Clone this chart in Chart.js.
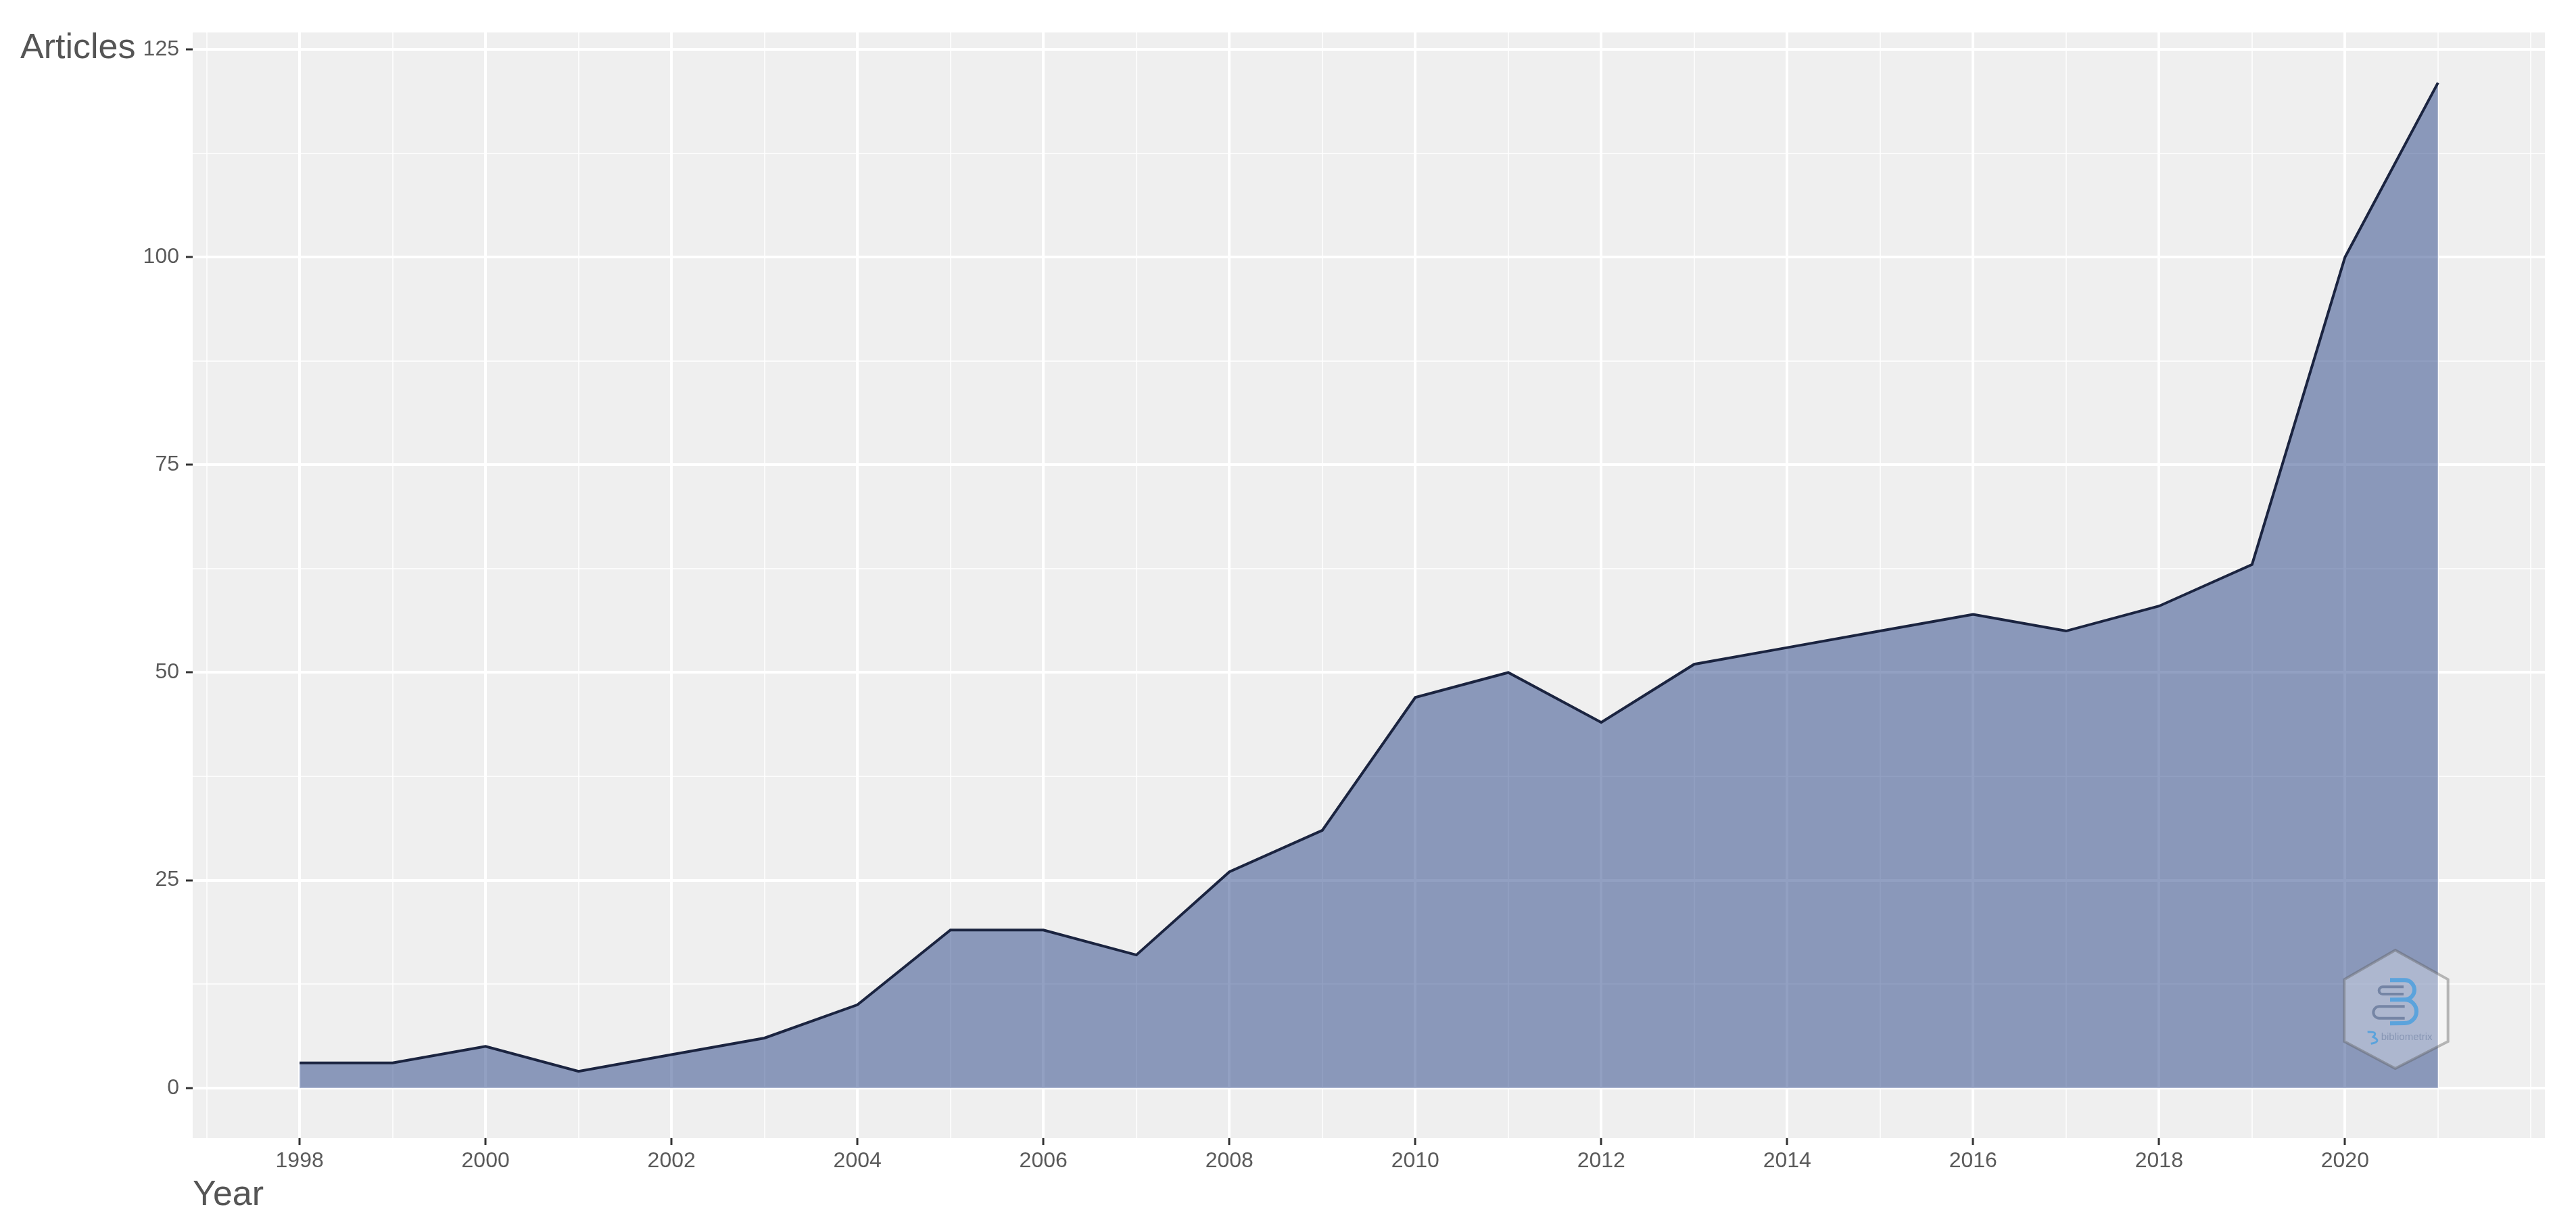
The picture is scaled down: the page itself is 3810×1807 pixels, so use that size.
<!DOCTYPE html>
<html>
<head>
<meta charset="utf-8">
<title>Annual production</title>
<script src="https://cdn.jsdelivr.net/npm/chart.js@4/dist/chart.umd.min.js"></script>
<style>
  html, body { margin: 0; padding: 0; background: #fff; }
  canvas { display: block; }
</style>
</head>
<body>
<canvas id="articlesChart" width="3810" height="1807"></canvas>
<script>
// Data
const years = [1998, 1999, 2000, 2001, 2002, 2003, 2004, 2005, 2006, 2007, 2008, 2009,
               2010, 2011, 2012, 2013, 2014, 2015, 2016, 2017, 2018, 2019, 2020, 2021];
const articles = [3, 3, 5, 2, 4, 6, 10, 19, 19, 16, 26, 31,
                  47, 50, 44, 51, 53, 55, 57, 55, 58, 63, 100, 121];

// Tick positions
const xMajorTicks = [1998, 2000, 2002, 2004, 2006, 2008, 2010, 2012, 2014, 2016, 2018, 2020];
const xMinorTicks = [1997, 1999, 2001, 2003, 2005, 2007, 2009, 2011, 2013, 2015, 2017, 2019, 2021, 2022];
const yMajorTicks = [0, 25, 50, 75, 100, 125];
const yMinorTicks = [12.5, 37.5, 62.5, 87.5, 112.5];

const xAxisTitle = 'Year';
const yAxisTitle = 'Articles';

const labelFont = { family: '"Liberation Sans", Arial, sans-serif', size: 32 };

// Grey panel behind the grid
const panelBackground = {
  id: 'panelBackground',
  beforeDraw(chart) {
    const { ctx, chartArea: a } = chart;
    ctx.save();
    ctx.fillStyle = '#EFEFEF';
    ctx.fillRect(a.left, a.top, a.right - a.left, a.bottom - a.top);
    ctx.restore();
  }
};

// Axis titles sit outside the usual spots, top left and bottom left
const cornerTitles = {
  id: 'cornerTitles',
  afterDraw(chart) {
    const ctx = chart.ctx;
    ctx.save();
    ctx.fillStyle = '#555555';
    ctx.textAlign = 'left';
    ctx.textBaseline = 'alphabetic';
    ctx.font = '52px "Liberation Sans", Arial, sans-serif';
    ctx.fillText(yAxisTitle, 30, 86);
    ctx.fillText(xAxisTitle, chart.chartArea.left, 1782);
    ctx.restore();
  }
};

// Package logo watermark, coordinates relative to its box
const logoWatermark = {
  id: 'logoWatermark',
  afterDatasetsDraw(chart) {
    const ctx = chart.ctx;
    const px = u => 3350 + u / 3;
    const py = v => 1350 + v / 3;
    ctx.save();

    // hexagon
    const hex = [[578, 165], [812, 295], [812, 570], [578, 690], [352, 570], [352, 295]];
    ctx.beginPath();
    hex.forEach((p, i) => i ? ctx.lineTo(px(p[0]), py(p[1])) : ctx.moveTo(px(p[0]), py(p[1])));
    ctx.closePath();
    ctx.fillStyle = 'rgba(255,255,255,0.3)';
    ctx.fill();
    ctx.strokeStyle = 'rgba(90,90,90,0.4)';
    ctx.lineWidth = 4;
    ctx.stroke();

    // grey pills
    ctx.strokeStyle = '#7585A5';
    ctx.lineWidth = 4;
    ctx.beginPath();
    ctx.moveTo(px(615), py(328));
    ctx.lineTo(px(522), py(328));
    ctx.arc(px(522), py(344), 16 / 3, -Math.PI / 2, Math.PI / 2, true);
    ctx.lineTo(px(615), py(360));
    ctx.moveTo(px(620), py(415));
    ctx.lineTo(px(507), py(415));
    ctx.arc(px(507), py(441), 26 / 3, -Math.PI / 2, Math.PI / 2, true);
    ctx.lineTo(px(620), py(467));
    ctx.stroke();

    // blue B
    ctx.strokeStyle = '#5BA3DC';
    ctx.lineWidth = 6;
    ctx.beginPath();
    ctx.moveTo(px(555), py(298));
    ctx.lineTo(px(620), py(298));
    ctx.arc(px(620), py(341), 43 / 3, -Math.PI / 2, Math.PI / 2);
    ctx.lineTo(px(555), py(385));
    ctx.moveTo(px(620), py(385));
    ctx.arc(px(620), py(437), 52 / 3, -Math.PI / 2, Math.PI / 2);
    ctx.lineTo(px(555), py(490));
    ctx.stroke();

    // small 3 next to the wordmark
    ctx.lineWidth = 3;
    ctx.beginPath();
    ctx.moveTo(px(455), py(528));
    ctx.quadraticCurveTo(px(505), py(525), px(480), py(550));
    ctx.quadraticCurveTo(px(520), py(570), px(470), py(580));
    ctx.stroke();

    ctx.fillStyle = '#8796B4';
    ctx.font = '15px "Liberation Sans", Arial, sans-serif';
    ctx.textAlign = 'left';
    ctx.textBaseline = 'middle';
    ctx.fillText('bibliometrix', px(515), py(553));
    ctx.restore();
  }
};

function setTicks(major, minor) {
  return scale => {
    scale.ticks = major.concat(minor).map(v => ({ value: v }));
  };
}

const ctx = document.getElementById('articlesChart').getContext('2d');
new Chart(ctx, {
  type: 'line',
  data: {
    datasets: [{
      label: yAxisTitle,
      data: years.map((year, i) => ({ x: year, y: articles[i] })),
      borderColor: '#1B2440',
      borderWidth: 4,
      backgroundColor: 'rgba(38,66,134,0.5)',
      fill: { value: 0 },
      tension: 0,
      pointRadius: 0,
      pointHoverRadius: 0
    }]
  },
  options: {
    responsive: false,
    devicePixelRatio: 1,
    animation: false,
    events: [],
    layout: { padding: { top: 48, right: 46, left: 0, bottom: 0 } },
    plugins: {
      legend: { display: false },
      title: { display: false },
      tooltip: { enabled: false }
    },
    scales: {
      x: {
        type: 'linear',
        min: 1996.85,
        max: 2022.15,
        afterBuildTicks: setTicks(xMajorTicks, xMinorTicks),
        afterFit: scale => { scale.height = 124; },
        border: { display: false },
        grid: {
          color: c => xMajorTicks.includes(c.tick.value) ? '#FFFFFF' : 'rgba(255,255,255,0.75)',
          lineWidth: c => xMajorTicks.includes(c.tick.value) ? 4 : 2,
          tickColor: c => xMajorTicks.includes(c.tick.value) ? '#333333' : 'rgba(0,0,0,0)',
          tickWidth: 3,
          tickLength: 10
        },
        ticks: {
          autoSkip: false,
          maxRotation: 0,
          minRotation: 0,
          padding: 5,
          color: '#5A5A5A',
          font: labelFont,
          callback: v => xMajorTicks.includes(v) ? String(v) : ''
        }
      },
      y: {
        type: 'linear',
        min: -6.05,
        max: 127.05,
        afterBuildTicks: setTicks(yMajorTicks, yMinorTicks),
        afterFit: scale => { scale.width = 285; },
        border: { display: false },
        grid: {
          color: c => yMajorTicks.includes(c.tick.value) ? '#FFFFFF' : 'rgba(255,255,255,0.75)',
          lineWidth: c => yMajorTicks.includes(c.tick.value) ? 4 : 2,
          tickColor: c => yMajorTicks.includes(c.tick.value) ? '#333333' : 'rgba(0,0,0,0)',
          tickWidth: 3,
          tickLength: 10
        },
        ticks: {
          autoSkip: false,
          padding: 10,
          color: '#5A5A5A',
          font: labelFont,
          callback: v => yMajorTicks.includes(v) ? String(v) : ''
        }
      }
    }
  },
  plugins: [panelBackground, cornerTitles, logoWatermark]
});
</script>
</body>
</html>
